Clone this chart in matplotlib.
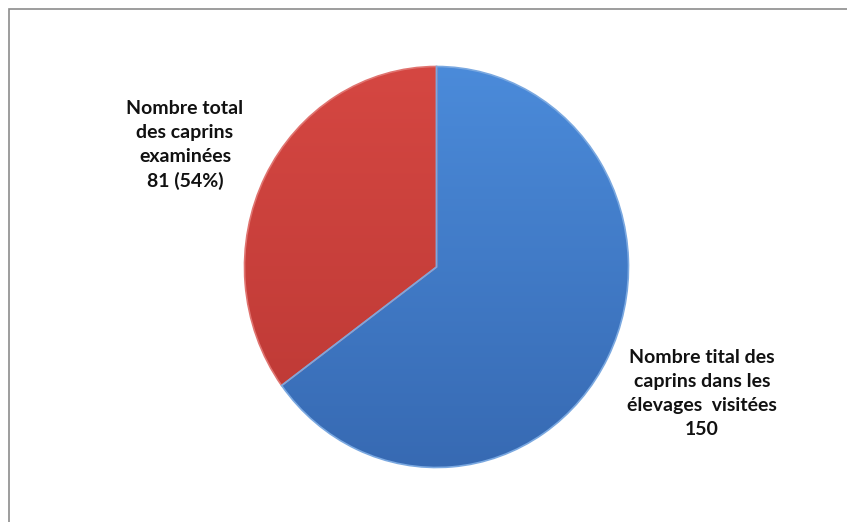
import numpy as np
import matplotlib.pyplot as plt
from matplotlib.colors import LinearSegmentedColormap
from matplotlib.patches import Rectangle

# données
labels = [
    "Nombre total\ndes caprins\nexaminées\n81 (54%)",
    "Nombre tital des\ncaprins dans les\nélevages  visitées\n150",
]
values = [81, 150]
top_colors = ["#d54742", "#4b8bda"]
bottom_colors = ["#bb3834", "#376ab3"]

W, H = 847, 522
fig = plt.figure(figsize=(W / 100, H / 100), dpi=100)

# cadre (seulement haut et gauche visibles)
fig.patches.append(Rectangle((9 / W, -0.05), 1.2, 1 - 9 / H + 0.05,
                             transform=fig.transFigure, fill=False,
                             edgecolor="#8c8c8c", linewidth=1.2))

cx, cy, rx, ry = 436.5, 267.0, 192.0, 200.5
ax = fig.add_axes([(cx - 1.25 * rx) / W, (H - cy - 1.25 * ry) / H,
                   2.5 * rx / W, 2.5 * ry / H])

wedges, _ = ax.pie(values, startangle=90, counterclock=True,
                   colors=top_colors,
                   wedgeprops=dict(linewidth=1.2))
ax.set_aspect("auto")
ax.axis("off")

# dégradé vertical façon Excel
grad = np.linspace(1, 0, 256).reshape(-1, 1)
for w, c0, c1 in zip(wedges, top_colors, bottom_colors):
    cmap = LinearSegmentedColormap.from_list("g", [c1, c0])
    im = ax.imshow(grad, cmap=cmap, extent=(-1, 1, -1, 1),
                   aspect="auto", zorder=w.get_zorder() + 0.1)
    im.set_clip_path(w)
    w.set_facecolor("none")
    w.set_zorder(w.get_zorder() + 0.2)
ax.set_xlim(-1.25, 1.25)
ax.set_ylim(-1.25, 1.25)
wedges[0].set_edgecolor("#e07470")
wedges[1].set_edgecolor("#7aa8e0")

font = dict(family=["Lato", "DejaVu Sans"], fontweight="bold", fontsize=14,
            ha="center", va="center", linespacing=1.5, color="#111111")
fig.text(185 / W, 1 - 145 / H, labels[0], **font)
fig.text(702 / W, 1 - 393.5 / H, labels[1], **font)

fig.savefig("out.png", dpi=100, facecolor="white")
